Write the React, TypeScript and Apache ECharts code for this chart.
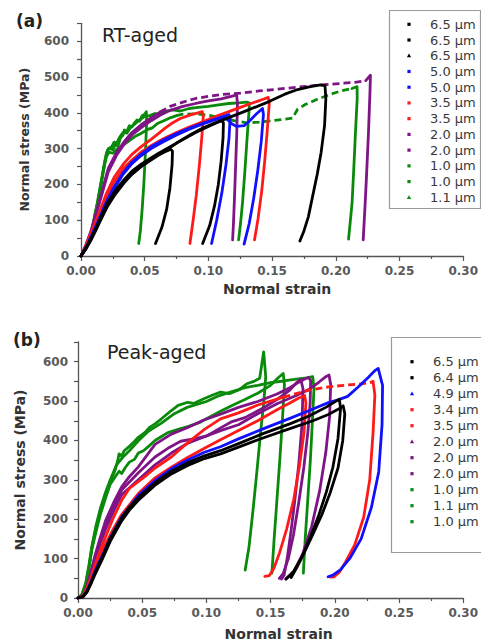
import React, { useEffect, useRef } from "react";
import * as echarts from "echarts";

// ---------- text ----------
const xName = "Normal strain";
const yName = "Normal stress (MPa)";
const panelLabels = ["(a)", "(b)"];
const panelTitles = ["RT-aged", "Peak-aged"];
const legendA = ["6.5 μm", "6.5 μm", "6.5 μm", "5.0 μm", "5.0 μm", "3.5 μm", "3.5 μm", "2.0 μm", "2.0 μm", "1.0 μm", "1.0 μm", "1.1 μm"];
const legendB = ["6.5 μm", "6.4 μm", "4.9 μm", "3.4 μm", "3.5 μm", "2.0 μm", "2.0 μm", "2.0 μm", "1.0 μm", "1.1 μm", "1.0 μm"];

// ---------- panel (a) RT-aged: [strain, stress MPa] ----------
const aBlack1 = [[0,0],[0.004,22],[0.008,48],[0.012,78],[0.016,108],[0.021,145],[0.027,178],[0.034,210],[0.040,233],[0.047,252],[0.054,268],[0.060,281],[0.066,291],[0.0705,298],[0.0718,292],[0.0715,255],[0.0698,190],[0.0672,130],[0.0635,80],[0.0585,35]];
const aBlack2 = [[0,0],[0.004,20],[0.008,45],[0.012,74],[0.016,104],[0.021,140],[0.027,173],[0.034,205],[0.040,228],[0.047,249],[0.054,266],[0.060,280],[0.068,298],[0.076,318],[0.0865,340],[0.096,358],[0.104,370],[0.110,378],[0.1118,372],[0.1115,330],[0.110,265],[0.1078,200],[0.1048,140],[0.101,85],[0.0955,35]];
const aBlack3 = [[0,0],[0.004,24],[0.008,50],[0.012,80],[0.016,112],[0.021,150],[0.027,183],[0.034,214],[0.040,237],[0.047,256],[0.054,272],[0.060,285],[0.070,305],[0.080,325],[0.090,345],[0.100,362],[0.110,378],[0.120,392],[0.130,406],[0.148,432],[0.160,452],[0.170,465],[0.180,473],[0.188,478],[0.1915,476],[0.1922,440],[0.1912,365],[0.1885,290],[0.1855,230],[0.182,170],[0.1785,110],[0.175,70],[0.1718,42]];
const aBlue1 = [[0,0],[0.005,32],[0.010,70],[0.015,110],[0.020,152],[0.026,193],[0.033,232],[0.040,262],[0.047,284],[0.055,305],[0.065,325],[0.075,342],[0.085,357],[0.095,370],[0.105,382],[0.112,390],[0.1162,395],[0.117,382],[0.1162,330],[0.1138,255],[0.1105,175],[0.1065,100],[0.1025,35]];
const aBlue2 = [[0,0],[0.005,30],[0.010,68],[0.015,106],[0.020,148],[0.026,188],[0.033,228],[0.040,258],[0.047,280],[0.055,300],[0.065,320],[0.075,338],[0.085,354],[0.095,368],[0.105,380],[0.113,388],[0.118,370],[0.122,362],[0.128,364],[0.133,380],[0.138,398],[0.1425,412],[0.1432,395],[0.1415,320],[0.1388,240],[0.1355,160],[0.132,90],[0.128,33]];
const aRed1 = [[0,0],[0.005,40],[0.010,84],[0.015,128],[0.020,175],[0.026,220],[0.034,260],[0.040,284],[0.047,305],[0.055,326],[0.060,340],[0.066,357],[0.071,370],[0.078,384],[0.0865,395],[0.092,400],[0.0952,403],[0.096,392],[0.0948,330],[0.0928,250],[0.0905,170],[0.088,100],[0.0855,35]];
const aRed2 = [[0,0],[0.005,36],[0.010,78],[0.015,120],[0.020,165],[0.026,207],[0.034,247],[0.040,268],[0.047,290],[0.055,308],[0.065,328],[0.075,345],[0.085,360],[0.095,374],[0.105,389],[0.115,402],[0.125,415],[0.135,428],[0.143,438],[0.147,443],[0.1478,428],[0.1462,350],[0.1442,265],[0.1418,180],[0.139,105],[0.1362,45]];
const aPurple1 = [[0,0],[0.004,30],[0.008,68],[0.011,105],[0.015,155],[0.0214,235],[0.028,282],[0.034,313],[0.040,338],[0.047,358],[0.055,378],[0.062,393],[0.070,407],[0.080,418],[0.090,426],[0.100,433],[0.110,439],[0.118,446],[0.1222,450],[0.1228,425],[0.1222,335],[0.1213,245],[0.1204,155],[0.1196,85],[0.119,45]];
const aPurple2 = [[0,0],[0.004,32],[0.008,72],[0.011,110],[0.015,162],[0.0214,245],[0.028,290],[0.034,320],[0.040,345],[0.047,366],[0.055,386],[0.062,402],[0.070,418],[0.080,430],[0.090,440],[0.100,446],[0.110,451],[0.125,455],[0.140,461],[0.160,468],[0.180,475],[0.200,481],[0.215,485],[0.2235,490],[0.226,500],[0.2272,505],[0.2268,455],[0.2256,340],[0.2242,230],[0.2228,130],[0.2215,45]];
const aGreen1 = [[0,0],[0.003,18],[0.006,42],[0.009,78],[0.011,115],[0.013,148],[0.015,188],[0.017,228],[0.0185,258],[0.020,284],[0.021,296],[0.023,300],[0.025,297],[0.027,312],[0.029,306],[0.031,330],[0.033,338],[0.034,352],[0.036,348],[0.038,364],[0.040,360],[0.042,372],[0.044,380],[0.046,377],[0.048,392],[0.050,396],[0.0513,403],[0.0515,370],[0.0505,285],[0.0493,200],[0.048,130],[0.0466,70],[0.0453,35]];
const aGreen2 = [[0,0],[0.003,20],[0.006,44],[0.009,80],[0.011,118],[0.013,152],[0.015,192],[0.017,232],[0.0185,262],[0.020,288],[0.0215,300],[0.024,305],[0.026,318],[0.028,315],[0.030,330],[0.033,345],[0.036,343],[0.039,360],[0.042,368],[0.046,380],[0.050,390],[0.054,392],[0.058,398],[0.062,396],[0.066,404],[0.072,408],[0.078,405],[0.085,412],[0.092,415],[0.100,418],[0.108,422],[0.116,426],[0.124,428],[0.130,430],[0.1322,427],[0.1318,400],[0.1302,320],[0.1285,230],[0.1268,150],[0.1252,90],[0.1237,45]];
const aGreen3 = [[0,0],[0.003,17],[0.006,40],[0.009,75],[0.011,112],[0.013,145],[0.015,185],[0.017,224],[0.0185,254],[0.020,278],[0.022,290],[0.025,287],[0.028,298],[0.031,303],[0.034,312],[0.038,322],[0.042,333],[0.047,342],[0.052,353],[0.056,358],[0.060,370],[0.065,378],[0.070,386],[0.075,392],[0.080,396],[0.090,397],[0.100,393],[0.110,386],[0.120,378],[0.130,372],[0.140,374],[0.150,378],[0.160,382],[0.166,385],[0.170,410],[0.176,423],[0.185,437],[0.1945,450],[0.203,460],[0.2127,468],[0.2167,473],[0.2168,440],[0.2155,350],[0.2142,250],[0.2128,150],[0.2112,90],[0.21,47]];

// ---------- panel (b) Peak-aged ----------
const bBlack1 = [[0,0],[0.004,3],[0.007,15],[0.010,35],[0.013,58],[0.0165,82],[0.0186,96],[0.025,143],[0.034,196],[0.040,223],[0.047,248],[0.0598,286],[0.0727,315],[0.085,336],[0.0985,354],[0.111,366],[0.125,383],[0.1446,407],[0.165,430],[0.183,450],[0.195,466],[0.2026,479],[0.2065,488],[0.2078,468],[0.2062,400],[0.2025,330],[0.1965,268],[0.19,212],[0.183,162],[0.176,114],[0.1705,78],[0.166,52]];
const bBlack2 = [[0,0],[0.004,4],[0.007,17],[0.010,38],[0.013,62],[0.0165,88],[0.0186,102],[0.025,150],[0.034,203],[0.040,230],[0.047,255],[0.0598,292],[0.0727,322],[0.085,343],[0.0985,361],[0.111,374],[0.125,392],[0.1446,418],[0.165,442],[0.180,462],[0.193,484],[0.200,498],[0.2035,505],[0.2045,482],[0.2025,405],[0.1985,332],[0.1935,270],[0.1875,210],[0.181,155],[0.1745,105],[0.168,68],[0.162,48]];
const bBlue1 = [[0,0],[0.004,4],[0.007,18],[0.010,40],[0.013,66],[0.0165,92],[0.019,108],[0.025,152],[0.034,206],[0.047,260],[0.060,298],[0.0727,328],[0.085,350],[0.0985,370],[0.111,384],[0.125,404],[0.1446,430],[0.165,456],[0.183,480],[0.195,496],[0.2026,503],[0.210,512],[0.218,535],[0.226,560],[0.2315,578],[0.2338,583],[0.2372,540],[0.2368,440],[0.2342,320],[0.2285,230],[0.2205,150],[0.212,102],[0.2045,72],[0.1985,58],[0.1948,54]];
const bRed1 = [[0,0],[0.004,5],[0.007,22],[0.010,45],[0.013,72],[0.017,105],[0.021,135],[0.027,172],[0.034,212],[0.047,265],[0.060,305],[0.0727,332],[0.085,356],[0.0985,380],[0.111,402],[0.125,425],[0.140,450],[0.155,478],[0.165,495],[0.172,508],[0.1765,514],[0.1775,495],[0.176,420],[0.1725,335],[0.168,250],[0.1625,175],[0.157,115],[0.1525,75],[0.149,57],[0.1455,55]];
const bRed2 = [[0,0],[0.004,6],[0.007,26],[0.010,52],[0.013,82],[0.017,118],[0.021,152],[0.027,200],[0.034,248],[0.040,278],[0.052,308],[0.060,330],[0.0727,358],[0.085,393],[0.0985,428],[0.111,455],[0.125,470],[0.140,490],[0.160,510],[0.180,528],[0.195,536],[0.210,541],[0.222,544],[0.2285,548],[0.2298,550],[0.2312,515],[0.2298,420],[0.2272,300],[0.2225,205],[0.2155,135],[0.2085,92],[0.2035,65],[0.1995,54],[0.1965,53]];
const bPurple1 = [[0,0],[0.004,6],[0.007,30],[0.010,66],[0.013,105],[0.017,150],[0.0214,196],[0.028,244],[0.034,282],[0.040,308],[0.047,333],[0.060,390],[0.0727,416],[0.0855,433],[0.098,452],[0.111,467],[0.125,484],[0.140,499],[0.155,518],[0.165,534],[0.172,548],[0.1765,556],[0.1795,560],[0.1812,552],[0.1808,495],[0.179,420],[0.1758,330],[0.1718,240],[0.1678,160],[0.1638,100],[0.1598,62],[0.1568,50]];
const bPurple2 = [[0,0],[0.004,5],[0.007,26],[0.010,58],[0.013,93],[0.017,135],[0.0214,174],[0.028,223],[0.034,262],[0.047,300],[0.060,338],[0.0727,368],[0.0855,393],[0.098,409],[0.111,425],[0.125,440],[0.140,468],[0.155,493],[0.170,514],[0.180,530],[0.188,549],[0.193,562],[0.1955,566],[0.1968,542],[0.196,462],[0.193,370],[0.1882,272],[0.182,182],[0.175,112],[0.168,66],[0.1618,48]];
const bPurple3 = [[0,0],[0.004,6],[0.007,28],[0.010,62],[0.013,100],[0.017,142],[0.0214,184],[0.028,234],[0.034,274],[0.047,318],[0.060,358],[0.070,380],[0.080,398],[0.090,404],[0.100,411],[0.110,430],[0.120,448],[0.130,458],[0.145,484],[0.155,504],[0.165,528],[0.170,546],[0.1735,555],[0.1752,532],[0.1745,442],[0.172,342],[0.169,252],[0.166,172],[0.163,102],[0.1605,58],[0.1585,48]];
const bGreen1 = [[0,0],[0.003,8],[0.006,34],[0.0085,78],[0.0108,128],[0.014,178],[0.0175,223],[0.0214,263],[0.025,294],[0.029,325],[0.031,350],[0.032,366],[0.034,360],[0.036,374],[0.040,385],[0.043,394],[0.047,408],[0.052,420],[0.056,434],[0.060,442],[0.065,455],[0.0727,476],[0.078,489],[0.0855,497],[0.090,494],[0.098,506],[0.104,514],[0.111,523],[0.118,519],[0.125,528],[0.1315,544],[0.137,550],[0.1415,558],[0.1446,625],[0.1462,562],[0.1448,500],[0.1422,420],[0.1393,320],[0.1362,220],[0.1332,130],[0.1302,71]];
const bGreen2 = [[0,0],[0.003,7],[0.006,32],[0.0085,74],[0.0108,123],[0.014,168],[0.0175,213],[0.0214,253],[0.025,288],[0.029,308],[0.032,322],[0.034,316],[0.037,332],[0.040,345],[0.044,352],[0.047,368],[0.051,374],[0.055,385],[0.060,400],[0.065,410],[0.070,420],[0.078,428],[0.0855,435],[0.095,446],[0.103,460],[0.111,474],[0.120,489],[0.130,504],[0.140,520],[0.150,540],[0.1555,558],[0.1598,570],[0.1608,542],[0.1592,452],[0.1572,352],[0.155,252],[0.1528,152],[0.151,63]];
const bGreen3 = [[0,0],[0.003,9],[0.006,38],[0.0085,83],[0.0108,131],[0.014,183],[0.0175,228],[0.0214,268],[0.025,299],[0.030,338],[0.035,358],[0.040,374],[0.047,399],[0.055,424],[0.065,444],[0.075,468],[0.085,484],[0.100,499],[0.110,514],[0.120,524],[0.130,534],[0.140,540],[0.150,547],[0.160,551],[0.170,556],[0.178,559],[0.1828,562],[0.1838,532],[0.1826,452],[0.181,352],[0.179,252],[0.177,152],[0.1755,63]];

// ---------- styling ----------
const BLACK = "#000000";
const BLUE = "#1010ff";
const RED = "#ff1a1a";
const PURPLE = "#7f1487";
const GREEN = "#0a8a0a";
const FONT = "'DejaVu Sans', 'Liberation Sans', sans-serif";
const LW = 2.8;

type Curve = { name: string; color: string; data: number[][]; dash?: [number, number]; tri?: boolean };

const curvesA: Curve[] = [
  { name: legendA[0], color: BLACK, data: aBlack1 },
  { name: legendA[1], color: BLACK, data: aBlack2 },
  { name: legendA[2], color: BLACK, data: aBlack3, tri: true },
  { name: legendA[3], color: BLUE, data: aBlue1 },
  { name: legendA[4], color: BLUE, data: aBlue2 },
  { name: legendA[5], color: RED, data: aRed1 },
  { name: legendA[6], color: RED, data: aRed2 },
  { name: legendA[7], color: PURPLE, data: aPurple1 },
  { name: legendA[8], color: PURPLE, data: aPurple2, dash: [0.062, 0.2235] },
  { name: legendA[9], color: GREEN, data: aGreen1 },
  { name: legendA[10], color: GREEN, data: aGreen2 },
  { name: legendA[11], color: GREEN, data: aGreen3, dash: [0.075, 0.2127], tri: true },
];
const curvesB: Curve[] = [
  { name: legendB[0], color: BLACK, data: bBlack1 },
  { name: legendB[1], color: BLACK, data: bBlack2 },
  { name: legendB[2], color: BLUE, data: bBlue1, tri: true },
  { name: legendB[3], color: RED, data: bRed1 },
  { name: legendB[4], color: RED, data: bRed2, dash: [0.16, 0.2285] },
  { name: legendB[5], color: PURPLE, data: bPurple1, tri: true },
  { name: legendB[6], color: PURPLE, data: bPurple2 },
  { name: legendB[7], color: PURPLE, data: bPurple3 },
  { name: legendB[8], color: GREEN, data: bGreen1 },
  { name: legendB[9], color: GREEN, data: bGreen2 },
  { name: legendB[10], color: GREEN, data: bGreen3 },
];

function buildSeries(curves: Curve[], idx: number) {
  const out: any[] = [];
  const order = [...curves].reverse();
  order.forEach((c) => {
    const base = {
      type: "line", name: c.name, xAxisIndex: idx, yAxisIndex: idx,
      showSymbol: false, symbol: "none", silent: true, clip: true,
    };
    const solid = { color: c.color, width: LW, cap: "round", join: "round" };
    if (!c.dash) {
      out.push({ ...base, data: c.data, lineStyle: solid });
      return;
    }
    const i0 = c.data.findIndex((p) => p[0] >= c.dash![0]);
    const i1 = c.data.findIndex((p) => p[0] >= c.dash![1]);
    out.push({ ...base, data: c.data.slice(0, i0 + 1), lineStyle: solid });
    out.push({ ...base, data: c.data.slice(i0, i1 + 1), lineStyle: { ...solid, type: [7, 4], cap: "butt" } });
    out.push({ ...base, data: c.data.slice(i1), lineStyle: solid });
  });
  return out;
}

function axisPair(idx: number, yGap: number, xGap: number, yNameSize: number, xPad: number, yLabelMargin: number) {
  const axisColor = "#555";
  const labelStyle = { color: "#5a5a5a", fontFamily: FONT, fontWeight: "bold" as const, fontSize: 12 };
  const xAxis = {
    gridIndex: idx, type: "value", min: 0, max: 0.3, interval: 0.05,
    axisLine: { show: true, onZero: false, lineStyle: { color: axisColor, width: 1.3 } },
    axisTick: { show: true, length: 5, lineStyle: { color: axisColor, width: 1.2 } },
    minorTick: { show: true, splitNumber: 2, length: 3, lineStyle: { color: axisColor, width: 1.2 } },
    axisLabel: { ...labelStyle, margin: 9, formatter: (v: number) => v.toFixed(2) },
    splitLine: { show: false },
    name: xName, nameLocation: "middle", nameGap: xGap,
    nameTextStyle: { fontFamily: FONT, fontWeight: "bold", fontSize: 14, color: "#333", padding: [0, 0, 0, xPad] },
  };
  const yAxis = {
    gridIndex: idx, type: "value", min: 0, max: 650, interval: 50,
    axisLine: { show: true, onZero: false, lineStyle: { color: axisColor, width: 1.3 } },
    axisTick: { show: true, length: 4, lineStyle: { color: axisColor, width: 1.2 } },
    axisLabel: { ...labelStyle, margin: yLabelMargin, formatter: (v: number) => (v % 100 === 0 ? String(v) : "") },
    splitLine: { show: false },
    name: yName, nameLocation: "middle", nameGap: yGap, nameRotate: 90,
    nameTextStyle: { fontFamily: FONT, fontWeight: "bold", fontSize: yNameSize, color: "#333" },
  };
  return { xAxis, yAxis };
}

const legendLayouts = [
  { box: { x: 389.5, y: 10.5, w: 91, h: 198 }, sx: 409, tx: 430, y0: 24.3, dy: 15.73 },
  { box: { x: 391.5, y: 337.5, w: 100, h: 215 }, sx: 412, tx: 433, y0: 361.7, dy: 16 },
];

function legendGraphics(curves: Curve[], li: number) {
  const L = legendLayouts[li];
  const els: any[] = [
    { type: "rect", shape: { x: L.box.x, y: L.box.y, width: L.box.w, height: L.box.h }, style: { fill: "#fff", stroke: "#9a9a9a", lineWidth: 1.2 }, z: 10 },
  ];
  curves.forEach((c, i) => {
    const y = L.y0 + i * L.dy;
    if (c.tri) {
      els.push({ type: "polygon", shape: { points: [[L.sx, y - 2.2], [L.sx + 2.2, y + 1.6], [L.sx - 2.2, y + 1.6]] }, style: { fill: c.color }, z: 11 });
    } else {
      els.push({ type: "rect", shape: { x: L.sx - 1.6, y: y - 1.6, width: 3.2, height: 3.2 }, style: { fill: c.color }, z: 11 });
    }
    els.push({ type: "text", x: L.tx, y, style: { text: c.name, fill: "#3a3a3a", font: `13px ${FONT}`, verticalAlign: "middle", align: "left" }, z: 11 });
  });
  return els;
}

export default function App() {
  const ref = useRef<HTMLDivElement>(null);
  useEffect(() => {
    if (!ref.current) return;
    const chart = echarts.init(ref.current, undefined, { renderer: "svg" });
    const pa = axisPair(0, 50, 26, 12.5, 10, 12);
    const pb = axisPair(1, 51, 29, 14, 16, 10);
    const option: any = {
      animation: false,
      backgroundColor: "#ffffff",
      grid: [
        { left: 81, top: 23.3, width: 384, height: 232.7 },
        { left: 78, top: 342, width: 388, height: 256 },
      ],
      xAxis: [pa.xAxis, pb.xAxis],
      yAxis: [pa.yAxis, pb.yAxis],
      series: [...buildSeries(curvesA, 0), ...buildSeries(curvesB, 1)],
      graphic: [
        { type: "text", x: 16, y: 20.5, style: { text: panelLabels[0], fill: "#222", font: `bold 17px ${FONT}`, verticalAlign: "middle" }, z: 12 },
        { type: "text", x: 102, y: 35, style: { text: panelTitles[0], fill: "#222", font: `19px ${FONT}`, verticalAlign: "middle" }, z: 12 },
        { type: "text", x: 13, y: 340, style: { text: panelLabels[1], fill: "#222", font: `bold 17px ${FONT}`, verticalAlign: "middle" }, z: 12 },
        { type: "text", x: 107, y: 351.5, style: { text: panelTitles[1], fill: "#222", font: `19px ${FONT}`, verticalAlign: "middle" }, z: 12 },
        ...legendGraphics(curvesA, 0),
        ...legendGraphics(curvesB, 1),
      ],
    };
    chart.setOption(option);
    return () => chart.dispose();
  }, []);
  return <div ref={ref} style={{ position: "fixed", left: 0, top: 0, width: 481, height: 642 }} />;
}
